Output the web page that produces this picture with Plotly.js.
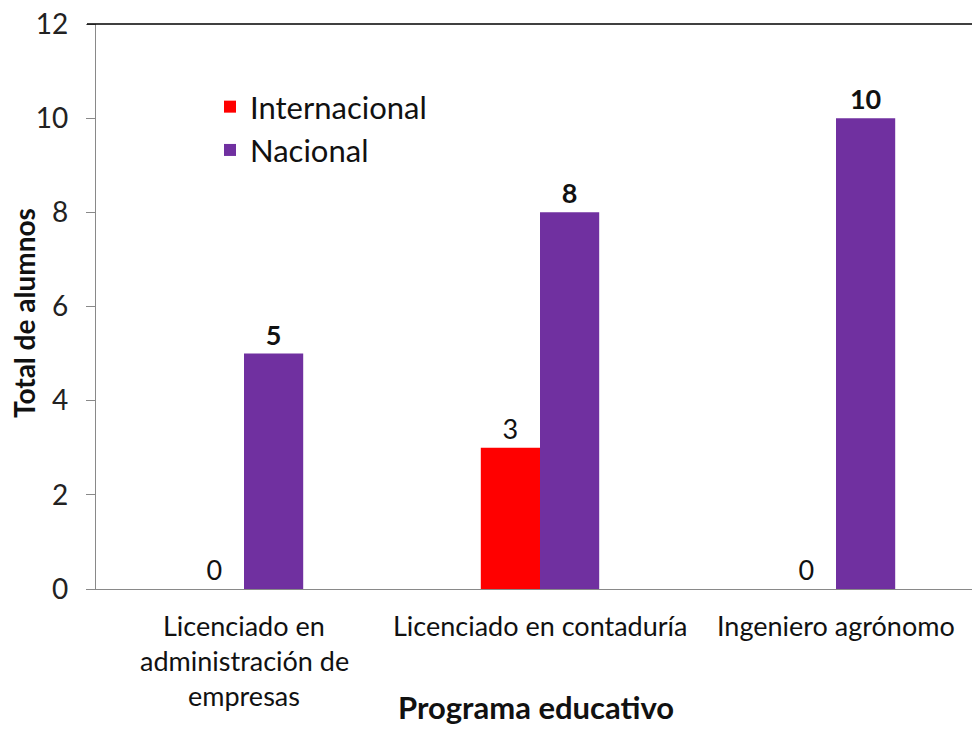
<!DOCTYPE html>
<html>
<head>
<meta charset="utf-8">
<script src="https://cdn.plot.ly/plotly-3.0.1.min.js"></script>
<style>html,body{margin:0;padding:0;background:#fff;}#chart{width:972px;height:729px;}</style>
</head>
<body>
<div id="chart"></div>
<script>
const categories = ["Licenciado en<br>administración de<br>empresas", "Licenciado en contaduría", "Ingeniero agrónomo"];
const seriesNames = ["Internacional", "Nacional"];
const internacional = [0, 3, 0];
const nacional = [5, 8, 10];
const yTicks = [0, 2, 4, 6, 8, 10, 12];
const xTitle = "Programa educativo";
const yTitle = "Total de alumnos";

const FONT = "Lato, 'Open Sans', sans-serif";
const W = 972, H = 729;
const L = 96, R = 0, T = 24, B = 140;
const plotW = W - L - R;
const catPx = 296;

const traces = [
  {
    type: "bar", name: seriesNames[0], x: categories, y: internacional,
    marker: {color: "#FF0000"},
    text: internacional.map(String), textposition: "outside", cliponaxis: false,
    textfont: {family: FONT, size: 27, color: "#111"},
    hoverinfo: "none"
  },
  {
    type: "bar", name: seriesNames[1], x: categories, y: nacional,
    marker: {color: "#7030A0"},
    text: nacional.map(v => "<b>" + v + "</b>"), textposition: "outside", cliponaxis: false,
    textfont: {family: FONT, size: 27, color: "#111"},
    hoverinfo: "none"
  }
];

const annotations = [];
categories.forEach((c, i) => {
  c.split("<br>").forEach((line, j) => {
    annotations.push({
      xref: "x", yref: "paper", x: i, y: 0, yanchor: "middle", xanchor: "center",
      yshift: -36 - 35 * j, text: line, showarrow: false,
      font: {family: FONT, size: 27, color: "#111"}
    });
  });
});
annotations.push({
  xref: "paper", yref: "paper", x: (536 - L) / plotW, y: 0, yanchor: "middle", xanchor: "center",
  yshift: -(707 - 589), text: "<b>" + xTitle + "</b>", showarrow: false,
  font: {family: FONT, size: 31, color: "#111"}
});
annotations.push({
  xref: "paper", yref: "paper", x: (24 - L) / plotW, y: (589 - 313) / (589 - 24),
  xanchor: "center", yanchor: "middle", textangle: -90,
  text: "<b>" + yTitle + "</b>", showarrow: false,
  font: {family: FONT, size: 28, color: "#111"}
});

const layout = {
  width: W, height: H,
  margin: {l: L, r: R, t: T, b: B, pad: 0},
  paper_bgcolor: "#fff", plot_bgcolor: "#fff",
  barmode: "group", bargap: 0.6, bargroupgap: 0,
  showlegend: true,
  legend: {
    x: (210 - L) / plotW, y: (589 - 80) / (589 - 24), xanchor: "left", yanchor: "top",
    font: {family: FONT, size: 31, color: "#111"},
    bgcolor: "rgba(0,0,0,0)", tracegroupgap: 4, itemwidth: 30
  },
  xaxis: {
    range: [-0.5, -0.5 + plotW / catPx],
    showticklabels: false, ticks: "",
    showline: true, linecolor: "#898989", linewidth: 1.2,
    showgrid: false, zeroline: false, fixedrange: true
  },
  yaxis: {
    range: [0, 12], tickvals: yTicks, ticktext: yTicks.map(String),
    ticks: "outside", ticklen: 9, tickcolor: "#898989", tickwidth: 1,
    ticklabelstandoff: 12,
    tickfont: {family: FONT, size: 28, color: "#222"},
    showline: true, linecolor: "#898989", linewidth: 1.2,
    showgrid: false, zeroline: false, fixedrange: true
  },
  shapes: [{
    type: "line", xref: "paper", yref: "paper",
    x0: (87 - L) / plotW, x1: 1, y0: 1, y1: 1,
    line: {color: "#000", width: 1.5}
  }],
  annotations: annotations
};

Plotly.newPlot("chart", traces, layout, {displayModeBar: false, staticPlot: true});
</script>
</body>
</html>
